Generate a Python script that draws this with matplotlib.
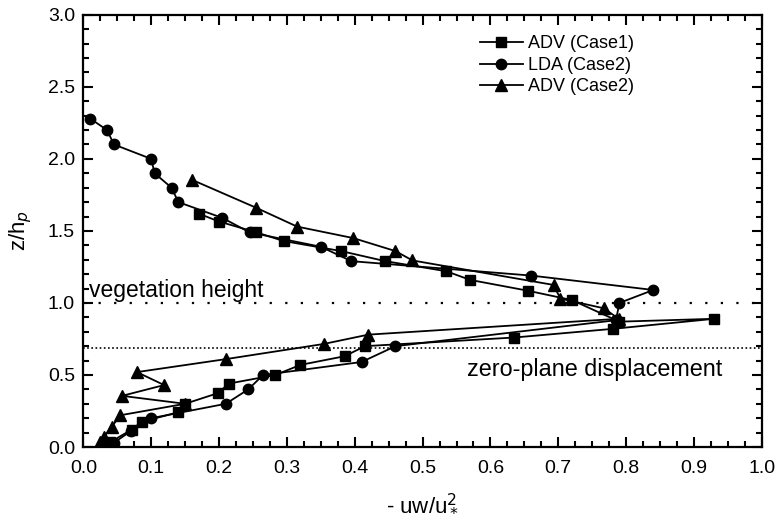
import matplotlib
matplotlib.use("Agg")
import matplotlib.pyplot as plt
from matplotlib.ticker import MultipleLocator

# ADV (Case1) - squares
adv1_x = [0.17, 0.20, 0.255, 0.295, 0.38, 0.445, 0.535, 0.57, 0.655, 0.72, 0.79, 0.93,
          0.78, 0.635, 0.415, 0.385, 0.32, 0.283, 0.214, 0.199, 0.15, 0.139, 0.086, 0.071, 0.04]
adv1_z = [1.62, 1.565, 1.49, 1.43, 1.36, 1.29, 1.22, 1.16, 1.085, 1.02, 0.87, 0.89,
          0.82, 0.76, 0.70, 0.63, 0.57, 0.50, 0.44, 0.375, 0.30, 0.24, 0.175, 0.12, 0.035]

# LDA (Case2) - circles
lda_x = [0.01, 0.035, 0.045, 0.10, 0.105, 0.13, 0.14, 0.205, 0.245, 0.35, 0.395, 0.66,
         0.84, 0.79, 0.785, 0.46, 0.41, 0.265, 0.243, 0.21, 0.10, 0.07, 0.045]
lda_z = [2.28, 2.2, 2.1, 2.0, 1.9, 1.8, 1.7, 1.59, 1.49, 1.39, 1.29, 1.19,
         1.09, 1.0, 0.88, 0.70, 0.59, 0.50, 0.40, 0.30, 0.20, 0.11, 0.03]

# ADV (Case2) - triangles
adv2_x = [0.16, 0.255, 0.315, 0.398, 0.46, 0.485, 0.693, 0.703, 0.767, 0.789, 0.42,
          0.354, 0.21, 0.079, 0.119, 0.057, 0.15, 0.054, 0.042, 0.03, 0.025]
adv2_z = [1.855, 1.66, 1.53, 1.45, 1.36, 1.295, 1.125, 1.03, 0.963, 0.89, 0.78,
          0.715, 0.61, 0.52, 0.43, 0.355, 0.30, 0.22, 0.14, 0.07, 0.035]

veg_height = 1.0
zero_plane = 0.69

plt.rcParams['font.family'] = ['Liberation Sans', 'DejaVu Sans']

fig = plt.figure(figsize=(7.79, 5.29), dpi=100)
ax = fig.add_axes([0.107, 0.155, 0.871, 0.817])

ax.plot(adv1_x, adv1_z, color='black', lw=1.3, marker='s', ms=7, label='ADV (Case1)')
ax.plot(lda_x, lda_z, color='black', lw=1.3, marker='o', ms=7.5, label='LDA (Case2)')
ax.plot(adv2_x, adv2_z, color='black', lw=1.3, marker='^', ms=8, label='ADV (Case2)')

ax.axhline(veg_height, color='black', lw=1.6, ls=(0, (1, 6)))
ax.axhline(zero_plane, color='black', lw=1.2, ls=(0, (1, 1.5)))

ax.text(0.008, 1.04, 'vegetation height', fontsize=16.5)
ax.text(0.566, 0.49, 'zero-plane displacement', fontsize=16.8)

ax.set_xlim(0, 1.0)
ax.set_ylim(0, 3.0)
ax.xaxis.set_major_locator(MultipleLocator(0.1))
ax.xaxis.set_minor_locator(MultipleLocator(0.025))
ax.yaxis.set_major_locator(MultipleLocator(0.5))
ax.yaxis.set_minor_locator(MultipleLocator(0.1))
ax.tick_params(which='both', direction='in', top=True, right=True, width=1.5, labelsize=14)
ax.tick_params(which='major', length=7)
ax.tick_params(which='minor', length=4)
ax.tick_params(axis='x', pad=9)
ax.tick_params(axis='y', pad=6)
for s in ax.spines.values():
    s.set_linewidth(1.6)

ax.set_xlabel(r'- uw/u$^2_*$', fontsize=16, labelpad=12)
ax.set_ylabel(r'z/h$_p$', fontsize=16, labelpad=10)

ax.legend(loc='upper right', bbox_to_anchor=(0.836, 0.99), frameon=False, fontsize=13,
          handlelength=2.4, labelspacing=0.25, handletextpad=0.3)

fig.savefig('out.png', dpi=100)
